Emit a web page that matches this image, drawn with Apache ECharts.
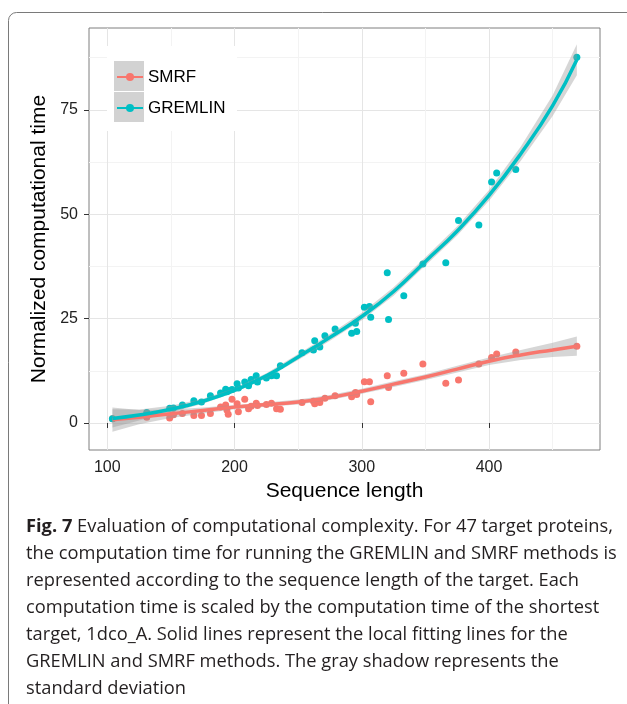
<!DOCTYPE html>
<html>
  <head>
    <meta charset="utf-8" />
    <title>Computational complexity</title>
    <script src="https://cdn.jsdelivr.net/npm/echarts@6/dist/echarts.min.js"></script>
    <style>
      html, body { margin: 0; padding: 0; background: #fff; }
      #chart { width: 627px; height: 704px; }
    </style>
  </head>
  <body>
    <div id="chart"></div>
    <script type="text/javascript">
      // sequence length of each target and its normalized time (47 targets)
      const seqLength = [104, 131, 149, 152, 159, 168, 174, 181, 189, 193, 194, 195, 198, 202, 203, 208, 211, 213, 217, 218, 225, 229, 233, 236, 253, 262, 263, 267, 271, 279, 292, 295, 296, 302, 306, 307, 320, 321, 333, 348, 366, 376, 392, 402, 406, 421, 469]
      const gremlinTime = [1.0, 2.5, 3.5, 3.6, 4.3, 5.3, 5.0, 6.5, 7.2, 8.1, 7.5, 7.7, 8.0, 9.4, 8.4, 9.8, 8.9, 10.4, 11.3, 9.8, 10.8, 11.3, 11.3, 13.7, 16.8, 17.5, 19.7, 18.2, 20.9, 22.5, 21.5, 23.9, 21.9, 27.7, 27.9, 25.3, 36.0, 24.8, 30.5, 38.1, 38.4, 48.5, 47.4, 57.7, 59.9, 60.7, 87.6]
      const smrfTime = [1.0, 1.4, 1.2, 2.0, 2.3, 1.8, 1.8, 2.3, 3.8, 4.3, 3.1, 2.1, 5.7, 4.6, 2.7, 5.7, 3.4, 4.0, 4.7, 4.2, 4.4, 4.7, 3.4, 3.3, 4.9, 5.2, 4.6, 4.9, 5.9, 6.5, 6.3, 7.3, 6.8, 9.9, 9.9, 5.1, 11.3, 8.5, 11.9, 14.1, 9.5, 10.3, 14.1, 15.7, 16.5, 17.0, 18.4]

      // local fitting lines and their standard deviation
      const fitX = [104, 125, 150, 175, 200, 225, 250, 275, 300, 325, 350, 375, 400, 425, 450, 469]
      const gremlinFit = [1.1, 1.9, 3.3, 5.2, 7.8, 11.3, 15.8, 20.5, 25.5, 31.5, 38.7, 46.0, 54.5, 64.5, 76.0, 87.0]
      const gremlinSd = [2.2, 1.3, 0.8, 0.6, 0.5, 0.6, 0.7, 0.8, 0.9, 1.0, 1.0, 1.1, 1.3, 1.7, 2.5, 3.7]
      const smrfFit = [0.8, 1.4, 2.2, 3.0, 3.8, 4.4, 5.0, 6.1, 7.6, 9.3, 11.0, 12.9, 14.8, 16.3, 17.5, 18.4]
      const smrfSd = [2.9, 1.7, 1.0, 0.7, 0.5, 0.5, 0.6, 0.6, 0.6, 0.7, 0.7, 0.8, 0.9, 1.2, 1.7, 2.3]

      const xTicks = [100, 200, 300, 400]
      const xMinorTicks = [150, 250, 350, 450]
      const yTicks = [0, 25, 50, 75]
      const yMinorTicks = [12.5, 37.5, 62.5, 87.5]

      const captionLines = [
        "{b|Fig. 7} Evaluation of computational complexity. For 47 target proteins,",
        "the computation time for running the GREMLIN and SMRF methods is",
        "represented according to the sequence length of the target. Each",
        "computation time is scaled by the computation time of the shortest",
        "target, 1dco_A. Solid lines represent the local fitting lines for the",
        "GREMLIN and SMRF methods. The gray shadow represents the",
        "standard deviation"
      ]

      const RED = "#F8766D"
      const CYAN = "#00BFC4"

      function zip(a, b) {
        return a.map((v, i) => [v, b[i]])
      }

      // gray ribbon: fit +/- sd, turned into a polygon through the axes
      function bandSeries(name, fit, sd) {
        return {
          name: name,
          type: "custom",
          z: 3,
          silent: true,
          data: [[fitX[0], fit[0]]],
          renderItem: function (params, api) {
            const upper = fitX.map((x, i) => api.coord([x, fit[i] + sd[i]]))
            const lower = fitX.map((x, i) => api.coord([x, fit[i] - sd[i]])).reverse()
            return {
              type: "polygon",
              shape: { points: upper.concat(lower) },
              style: { fill: "rgba(153,153,153,0.4)" }
            }
          }
        }
      }

      const myChart = echarts.init(document.getElementById("chart"))

      const option = {
        animation: false,
        backgroundColor: "#fff",
        grid: {
          left: 89,
          right: 27,
          top: 28,
          bottom: 254,
          show: true,
          backgroundColor: "#fff",
          borderColor: "#7f7f7f",
          borderWidth: 1
        },
        legend: {
          orient: "vertical",
          left: 116,
          top: 67,
          padding: 0,
          itemWidth: 26,
          itemHeight: 10,
          itemGap: 11,
          z: 6,
          textStyle: { fontFamily: "Liberation Sans", fontSize: 17, color: "#000", lineHeight: 20 },
          data: ["SMRF", "GREMLIN"]
        },
        xAxis: [
          {
            type: "value",
            min: 85.6,
            max: 487.2,
            name: "Sequence length",
            nameLocation: "middle",
            nameGap: 29,
            nameTextStyle: { fontFamily: "Liberation Sans", fontSize: 21, color: "#000" },
            axisLine: { show: false },
            axisTick: { show: true, length: 5, lineStyle: { color: "#333" }, customValues: xTicks },
            axisLabel: { margin: 10, fontFamily: "Liberation Sans", fontSize: 16, color: "#222", customValues: xTicks },
            splitLine: { show: true, lineStyle: { color: "#e5e5e5", width: 1 } }
          },
          {
            type: "value",
            min: 85.6,
            max: 487.2,
            position: "top",
            axisLine: { show: false },
            axisTick: { show: false, customValues: xMinorTicks },
            axisLabel: { show: false, customValues: xMinorTicks },
            splitLine: { show: true, lineStyle: { color: "#f3f3f3", width: 1 } }
          }
        ],
        yAxis: [
          {
            type: "value",
            min: -6.47,
            max: 94.6,
            name: "Normalized computational time",
            nameLocation: "middle",
            nameGap: 34,
            nameTextStyle: { fontFamily: "Liberation Sans", fontSize: 21, color: "#000" },
            axisLine: { show: false },
            axisTick: { show: true, length: 5, lineStyle: { color: "#333" }, customValues: yTicks },
            axisLabel: { margin: 11, fontFamily: "Liberation Sans", fontSize: 16, color: "#222", customValues: yTicks },
            splitLine: { show: true, lineStyle: { color: "#e5e5e5", width: 1 } }
          },
          {
            type: "value",
            min: -6.47,
            max: 94.6,
            position: "right",
            axisLine: { show: false },
            axisTick: { show: false, customValues: yMinorTicks },
            axisLabel: { show: false, customValues: yMinorTicks },
            splitLine: { show: true, lineStyle: { color: "#f3f3f3", width: 1 } }
          }
        ],
        graphic: [
          {
            type: "rect",
            z: 0,
            silent: true,
            shape: { x: 8.5, y: 12.5, width: 700, height: 800, r: 8 },
            style: { fill: "none", stroke: "#7a7a7a", lineWidth: 1 }
          },
          // legend background and gray keys
          {
            type: "rect",
            z: 3,
            silent: true,
            shape: { x: 107, y: 46, width: 130, height: 85 },
            style: { fill: "#fff" }
          },
          {
            type: "rect",
            z: 4,
            silent: true,
            shape: { x: 114, y: 61, width: 30, height: 30 },
            style: { fill: "#d2d2d2" }
          },
          {
            type: "rect",
            z: 4,
            silent: true,
            shape: { x: 114, y: 92, width: 30, height: 30 },
            style: { fill: "#d2d2d2" }
          },
          {
            type: "text",
            z: 5,
            left: 26,
            top: 513,
            style: {
              text: captionLines.join("\n"),
              fontFamily: "Open Sans",
              fontSize: 18.3,
              lineHeight: 27,
              fill: "#231f20",
              rich: {
                b: { fontFamily: "Open Sans", fontSize: 18.3, fontWeight: "bold", lineHeight: 27, fill: "#231f20" }
              }
            }
          }
        ],
        series: [
          {
            name: "SMRF points",
            type: "scatter",
            z: 2,
            symbolSize: 7,
            itemStyle: { color: RED, opacity: 1 },
            data: zip(seqLength, smrfTime)
          },
          {
            name: "GREMLIN points",
            type: "scatter",
            z: 2,
            symbolSize: 7,
            itemStyle: { color: CYAN, opacity: 1 },
            data: zip(seqLength, gremlinTime)
          },
          bandSeries("SMRF band", smrfFit, smrfSd),
          bandSeries("GREMLIN band", gremlinFit, gremlinSd),
          {
            name: "SMRF",
            type: "line",
            z: 4,
            smooth: true,
            symbol: "circle",
            symbolSize: 7,
            showSymbol: false,
            itemStyle: { color: RED },
            lineStyle: { color: RED, width: 3.5 },
            data: zip(fitX, smrfFit)
          },
          {
            name: "GREMLIN",
            type: "line",
            z: 5,
            smooth: true,
            symbol: "circle",
            symbolSize: 7,
            showSymbol: false,
            itemStyle: { color: CYAN },
            lineStyle: { color: CYAN, width: 3.5 },
            data: zip(fitX, gremlinFit)
          }
        ]
      }

      myChart.setOption(option)
    </script>
  </body>
</html>
